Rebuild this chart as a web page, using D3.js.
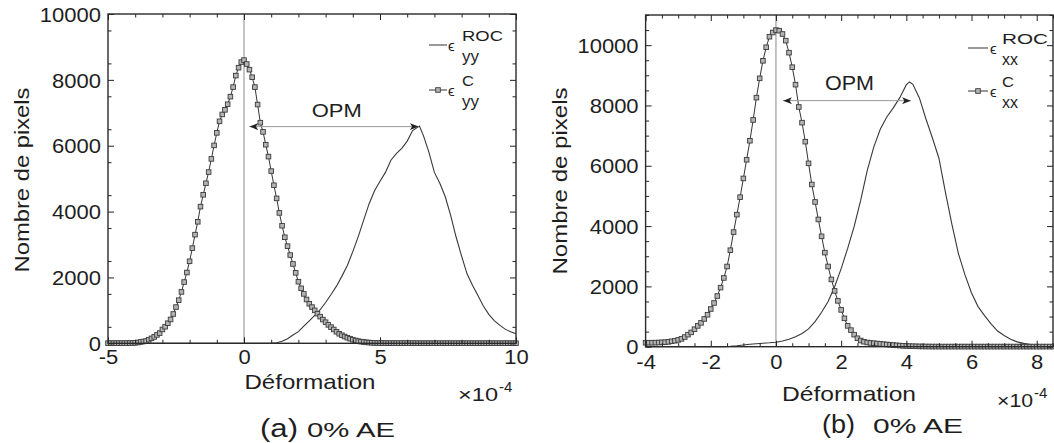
<!DOCTYPE html>
<html><head><meta charset="utf-8">
<script src="https://cdn.jsdelivr.net/npm/d3@7"></script>
<style>
html,body{margin:0;padding:0;background:#fff;}
svg{display:block;}
text{font-family:"Liberation Sans",Arial,Helvetica,sans-serif;fill:#1e1e1e;}
</style></head><body>
<svg id="chart" width="1054" height="443"></svg>
<script>
// ---------------- DATA ----------------
// Panel (a): epsilon_yy, deformation in units of 1e-4
const cyyStart = -5, cyyStep = 0.1;
const cyyValues = [
  4,4,4,4,4,5,5,6,7,9,
  15,25,40,55,70,110,150,195,255,310,
  420,504,610,725,890,1100,1310,1560,1860,2150,
  2490,2890,3300,3690,4150,4510,4860,5200,5600,6010,
  6390,6740,6950,7090,7260,7490,7780,8130,8370,8540,
  8600,8480,8310,8080,7780,7250,6700,6420,6030,5670,
  5230,4800,4400,3960,3570,3220,2950,2680,2410,2140,
  1870,1670,1500,1330,1200,1100,1000,900,810,720,
  640,560,490,420,350,290,245,205,170,140,
  110,85,65,50,40,30,22,16,12,9,
  7,6,6,5,5,5,4,4,4,4,
  4,4,4,4,3,3,3,3,3,3,
  3,3,3,3,3,3,3,3,3,3,
  3,3,3,3,3,3,3,3,3,3,
  3,3,3,3,3,3,3,3,3,3,
  3
];
const rocYYx = [-5,1.0,1.2,1.4,1.6,1.8,2.0,2.2,2.4,2.6,2.8,3.0,3.2,3.4,3.6,3.8,4.0,4.2,4.4,4.6,4.8,5.0,5.2,5.4,5.6,5.8,6.0,6.2,6.45,6.6,6.8,7.0,7.2,7.4,7.6,7.8,8.0,8.2,8.4,8.6,8.8,9.0,9.2,9.4,9.6,9.8,10.0];
const rocYYv = [0,0,15,60,140,250,353,520,680,845,1020,1240,1480,1735,2040,2365,2785,3240,3740,4240,4630,4920,5190,5560,5760,5920,6140,6460,6600,6300,5800,5190,4860,4450,3880,3220,2650,2110,1760,1450,1130,880,690,550,430,350,290];
const opmA = [0.2, 6.42, 6580];   // x1, x2, y of the OPM arrow

// Panel (b): epsilon_xx
const cxxStart = -4, cxxStep = 0.1;
const cxxValues = [
  132,132,133,135,138,145,150,160,180,198,
  225,260,320,400,475,580,690,790,920,1060,
  1250,1450,1680,1960,2280,2660,3200,3800,4380,4960,
  5580,6200,6830,7520,8260,8900,9480,9930,10280,10420,
  10500,10480,10370,10150,9750,9270,8690,7950,7430,6800,
  6080,5380,4800,4220,3660,3120,2660,2230,1850,1520,
  1220,940,690,550,400,280,205,165,140,125,
  115,105,95,85,75,65,55,45,38,30,
  25,20,16,13,10,8,7,6,5,5,
  4,4,4,4,4,4,4,4,4,4,
  4,4,4,4,4,4,4,4,4,4,
  4,4,4,4,4,4,4,4,4,4,
  4,4,4,4,4,4
];
const rocXXx = [-4,-1.6,-1.4,-1.2,-1.0,-0.8,-0.6,-0.4,-0.2,0,0.2,0.4,0.6,0.8,1.0,1.2,1.4,1.6,1.8,2.0,2.2,2.4,2.6,2.8,3.0,3.2,3.4,3.6,3.8,4.0,4.1,4.2,4.4,4.6,4.8,5.0,5.2,5.4,5.6,5.8,6.0,6.2,6.4,6.6,6.8,7.0,7.2,7.4,7.6,7.8,8.0,8.2,8.5];
const rocXXv = [0,0,10,30,55,80,100,115,130,150,190,250,330,440,590,830,1140,1500,1990,2590,3260,3990,4860,5840,6620,7210,7620,7920,8260,8690,8780,8700,8250,7560,6920,6250,5120,4050,3080,2380,1780,1330,1030,760,520,370,250,160,110,70,45,25,10];
const opmB = [0.22, 4.14, 8160];

// Axis ticks
const xTicksA = [-5,0,5,10];
const xMinorA = [-4,-3,-2,-1,1,2,3,4,6,7,8,9];
const yTicksA = [0,2000,4000,6000,8000,10000];
const xTicksB = [-4,-2,0,2,4,6,8];
const yTicksB = [0,2000,4000,6000,8000,10000];

// Texts
const xLabel = "Déformation";
const yLabel = "Nombre de pixels";
const captionA = ["(a)", "0% AE"];
const captionB = ["(b)", "0% AE"];

// ---------------- DRAWING ----------------
const svg = d3.select('#chart');
const defs = svg.append('defs');
defs.append('marker').attr('id','ah').attr('viewBox','0 0 10 8')
  .attr('markerWidth',9).attr('markerHeight',7).attr('refX',10).attr('refY',4)
  .attr('orient','auto-start-reverse').attr('markerUnits','userSpaceOnUse')
  .append('path').attr('d','M0,0 L10,4 L0,8 L2.5,4 Z').attr('fill','#222');

function txt(g, str, x, y, o) {
  o = o || {};
  const t = g.append('text').attr('x', x).attr('y', y).text(str)
    .attr('font-size', o.size || 20).attr('text-anchor', o.anchor || 'start');
  if (o.family) t.attr('font-family', o.family);
  if (o.len) t.attr('textLength', o.len).attr('lengthAdjust', 'spacingAndGlyphs');
  if (o.rotate) t.attr('transform', `rotate(-90,${x},${y})`);
  return t;
}

function stretch(sel, sx) {
  sel.each(function() {
    const w = this.getComputedTextLength();
    d3.select(this).attr('textLength', w * sx).attr('lengthAdjust', 'spacingAndGlyphs');
  });
}

function panel(c) {
  const g = svg.append('g');
  const x = d3.scaleLinear().domain(c.xd).range([c.x0, c.x1]);
  const y = d3.scaleLinear().domain(c.yd).range([c.y1, c.y0]);

  // vertical line at zero
  g.append('line').attr('x1', x(0)).attr('x2', x(0)).attr('y1', c.y0).attr('y2', c.y1)
    .attr('stroke', '#8a8a8a').attr('stroke-width', 1);

  const line = d3.line().x(d => x(d[0])).y(d => y(d[1]));
  const roc = c.rocX.map((v, i) => [v, c.rocV[i]]);
  g.append('path').datum(roc).attr('d', line).attr('fill', 'none')
    .attr('stroke', '#383838').attr('stroke-width', 1.1);

  const cs = c.cV.map((v, i) => [c.cStart + i * c.cStep, v]);
  g.append('path').datum(cs).attr('d', line).attr('fill', 'none')
    .attr('stroke', '#333').attr('stroke-width', 1);
  g.append('g').selectAll('rect').data(cs).join('rect')
    .attr('x', d => x(d[0]) - 2.3).attr('y', d => y(d[1]) - 2.3)
    .attr('width', 4.6).attr('height', 4.6)
    .attr('fill', '#b4b4b4').attr('stroke', '#3a3a3a').attr('stroke-width', 0.9);

  // OPM arrow
  g.append('line').attr('x1', x(c.opm[0])).attr('x2', x(c.opm[1]))
    .attr('y1', y(c.opm[2])).attr('y2', y(c.opm[2]))
    .attr('stroke', '#9a9a9a').attr('stroke-width', 1)
    .attr('marker-start', 'url(#ah)').attr('marker-end', 'url(#ah)');
  txt(g, 'OPM', c.opmTx, c.opmTy, {size: c.opmSize, len: c.opmLen});

  // axes
  const ax = g.append('g').attr('color', '#222');
  const xMinor = c.xMinor, yMinor = c.yMinor;
  ax.append('g').attr('transform', `translate(0,${c.y1})`)
    .call(d3.axisBottom(x).tickValues(xMinor).tickSize(-3.5).tickFormat(''));
  ax.append('g').attr('transform', `translate(0,${c.y0})`)
    .call(d3.axisTop(x).tickValues(xMinor).tickSize(-3.5).tickFormat(''));
  ax.append('g').attr('transform', `translate(${c.x0},0)`)
    .call(d3.axisLeft(y).tickValues(yMinor).tickSize(-3.5).tickFormat(''));
  ax.append('g').attr('transform', `translate(${c.x1},0)`)
    .call(d3.axisRight(y).tickValues(yMinor).tickSize(-3.5).tickFormat(''));
  const bx = ax.append('g').attr('transform', `translate(0,${c.y1})`)
    .call(d3.axisBottom(x).tickValues(c.xTicks).tickSize(-6).tickPadding(c.xPad).tickFormat(d => String(d)));
  ax.append('g').attr('transform', `translate(0,${c.y0})`)
    .call(d3.axisTop(x).tickValues(c.xTicks).tickSize(-6).tickFormat(''));
  const ly = ax.append('g').attr('transform', `translate(${c.x0},0)`)
    .call(d3.axisLeft(y).tickValues(c.yTicks).tickSize(-6).tickPadding(7).tickFormat(d => String(d)));
  ax.append('g').attr('transform', `translate(${c.x1},0)`)
    .call(d3.axisRight(y).tickValues(c.yTicks).tickSize(-6).tickFormat(''));
  ax.selectAll('.domain').remove();
  ax.selectAll('.tick line').attr('stroke-width', 1);
  ax.selectAll('text').attr('fill', '#1e1e1e').attr('font-size', 20)
    .attr('font-family', '"Liberation Sans", Arial, sans-serif');
  ly.selectAll('text').attr('dy', '0.36em');
  stretch(bx.selectAll('text'), 1.1);
  stretch(ly.selectAll('text'), 1.1);

  g.append('rect').attr('x', c.x0).attr('y', c.y0).attr('width', c.x1 - c.x0).attr('height', c.y1 - c.y0)
    .attr('fill', 'none').attr('stroke', '#2a2a2a').attr('stroke-width', 1.4);

  // axis labels
  txt(g, xLabel, c.xlX, c.xlY, {size: 21, anchor: 'middle', len: c.xlLen});
  txt(g, yLabel, c.ylX, c.ylY, {size: 21, anchor: 'middle', len: c.ylLen, rotate: true});
  // x10^-4
  txt(g, '\u00d710', c.expX, c.expY, {size: 19, len: c.expLen});
  txt(g, '-4', c.expX + c.expLen + 1, c.expY - 9, {size: 15});

  // legend
  const L = c.leg;
  const lg = g.append('g');
  lg.append('line').attr('x1', L.lx1).attr('x2', L.lx2).attr('y1', L.y1).attr('y2', L.y1)
    .attr('stroke', '#333').attr('stroke-width', 1);
  lg.append('line').attr('x1', L.lx1).attr('x2', L.lx2).attr('y1', L.y2).attr('y2', L.y2)
    .attr('stroke', '#333').attr('stroke-width', 1);
  lg.append('rect').attr('x', (L.lx1 + L.lx2) / 2 - 2.3).attr('y', L.y2 - 2.3).attr('width', 4.6).attr('height', 4.6)
    .attr('fill', '#b4b4b4').attr('stroke', '#3a3a3a').attr('stroke-width', 0.9);
  [[L.y1, 'ROC', L.rocLen], [L.y2, 'C', L.cLen]].forEach(([yy, sup, len]) => {
    txt(lg, '\u03f5', L.ex, yy + 6, {size: 15, family: '"DejaVu Sans", sans-serif'});
    txt(lg, sup, L.sx, yy - 4, {size: 15, len: len});
    txt(lg, c.sub, L.sx, yy + 17, {size: 17, len: L.subLen});
  });

  // caption
  txt(g, c.cap[0], c.capX1, c.capY, {size: 25, family: '"Liberation Serif", "Times New Roman", serif', len: c.capLen1});
  txt(g, c.cap[1], c.capX2, c.capY, {size: 21, len: c.capLen2});
}

panel({
  xd: [-5, 10], yd: [0, 10000], x0: 108, x1: 516, y0: 14, y1: 343.3,
  xTicks: xTicksA, xMinor: xMinorA, yTicks: yTicksA,
  yMinor: [500,1500,2500,3500,4500,5500,6500,7500,8500,9500],
  xPad: 7,
  cStart: cyyStart, cStep: cyyStep, cV: cyyValues, rocX: rocYYx, rocV: rocYYv,
  opm: opmA, opmTx: 311.7, opmTy: 116.7, opmSize: 19, opmLen: 50,
  xlX: 310, xlY: 389, xlLen: 131,
  ylX: 29, ylY: 180, ylLen: 185,
  expX: 458, expY: 401, expLen: 40,
  sub: 'yy',
  leg: {lx1: 429, lx2: 447, y1: 45, y2: 90, ex: 448, sx: 462, rocLen: 41, cLen: 12, subLen: 17},
  cap: captionA, capX1: 260, capX2: 307, capY: 437, capLen1: 38, capLen2: 88
});

panel({
  xd: [-4, 8.5], yd: [0, 11000], x0: 645.6, x1: 1053, y0: 15, y1: 346.7,
  xTicks: xTicksB, xMinor: [-3.5,-3,-2.5,-1.5,-1,-0.5,0.5,1,1.5,2.5,3,3.5,4.5,5,5.5,6.5,7,7.5,8.5],
  yTicks: yTicksB,
  yMinor: [500,1000,1500,2500,3000,3500,4500,5000,5500,6500,7000,7500,8500,9000,9500,10500,11000],
  xPad: 8,
  cStart: cxxStart, cStep: cxxStep, cV: cxxValues, rocX: rocXXx, rocV: rocXXv,
  opm: opmB, opmTx: 825, opmTy: 90, opmSize: 21, opmLen: 49,
  xlX: 849, xlY: 401, xlLen: 134,
  ylX: 567, ylY: 181, ylLen: 187,
  expX: 997, expY: 407, expLen: 36,
  sub: 'xx',
  leg: {lx1: 968, lx2: 988, y1: 48, y2: 91, ex: 990, sx: 1002, rocLen: 46, cLen: 12, subLen: 16},
  cap: captionB, capX1: 822, capX2: 873, capY: 433, capLen1: 33, capLen2: 90
});
</script>
</body></html>
